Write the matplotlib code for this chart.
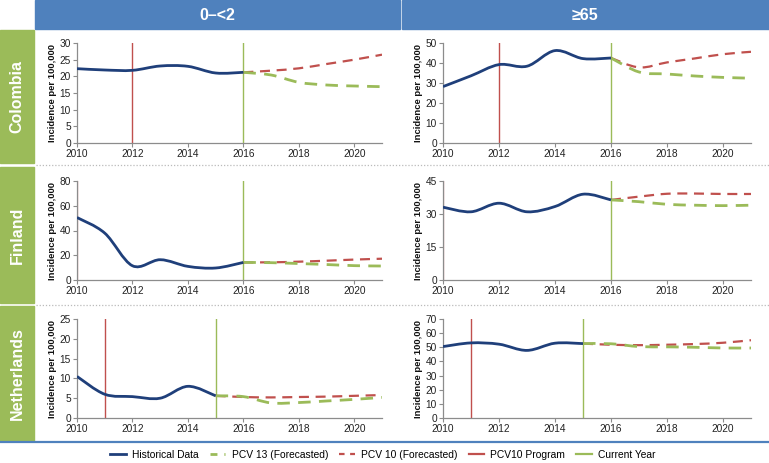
import matplotlib
matplotlib.use("Agg")
import matplotlib.pyplot as plt
from matplotlib.path import Path
from matplotlib.patches import PathPatch, Rectangle
from matplotlib.lines import Line2D

plt.rcParams['font.family'] = ['Liberation Sans', 'DejaVu Sans']

# ---------------- data ----------------
col_headers = ["0\u2013<2", "\u226565"]
row_labels = ["Colombia", "Finland", "Netherlands"]

col_hist_years = [2010, 2011, 2012, 2013, 2014, 2015, 2016]
col_fc_years = [2016, 2017, 2018, 2019, 2020, 2021]
col_02_hist = [22.3, 21.9, 21.8, 23.1, 23.0, 21.0, 21.2]
col_02_pcv13 = [21.2, 20.4, 18.2, 17.4, 17.1, 16.9]
col_02_pcv10 = [21.2, 21.7, 22.4, 23.7, 25.0, 26.5]
col_65_hist = [28.2, 33.6, 39.2, 38.4, 46.2, 42.2, 42.5]
col_65_pcv13 = [42.5, 35.5, 34.5, 33.5, 32.8, 32.4]
col_65_pcv10 = [42.5, 37.8, 40.3, 42.3, 44.4, 45.6]

fin_hist_years = [2010, 2011, 2012, 2013, 2014, 2015, 2016]
fin_fc_years = [2016, 2017, 2018, 2019, 2020, 2021]
fin_02_hist = [50.5, 37.9, 11.5, 16.4, 11.0, 9.7, 14.2]
fin_02_pcv13 = [14.2, 14.0, 13.3, 12.5, 11.6, 11.3]
fin_02_pcv10 = [14.2, 14.3, 14.8, 15.6, 16.5, 17.2]
fin_65_hist = [33.1, 31.0, 34.9, 31.0, 33.4, 39.0, 36.4]
fin_65_pcv13 = [36.4, 35.6, 34.4, 34.0, 33.8, 34.0]
fin_65_pcv10 = [36.4, 37.9, 39.2, 39.3, 39.1, 39.1]

net_hist_years = [2010, 2011, 2012, 2013, 2014, 2015]
net_fc_years = [2015, 2016, 2017, 2018, 2019, 2020, 2021]
net_02_hist = [10.5, 6.0, 5.4, 5.0, 8.0, 5.6]
net_02_pcv13 = [5.6, 5.4, 3.8, 3.9, 4.3, 4.7, 5.2]
net_02_pcv10 = [5.6, 5.3, 5.2, 5.3, 5.4, 5.6, 5.8]
net_65_hist = [50.5, 53.1, 52.2, 47.8, 52.9, 52.6]
net_65_pcv13 = [52.6, 52.5, 50.5, 50.3, 50.0, 49.5, 49.5]
net_65_pcv10 = [52.6, 51.8, 51.5, 51.8, 52.3, 53.2, 55.0]

program_years = [2012, 2010, 2011]
current_years = [2016, 2016, 2015]

y_max = [[30, 50], [80, 45], [25, 70]]
y_step = [[5, 10], [20, 15], [5, 10]]
x_ticks = [2010, 2012, 2014, 2016, 2018, 2020]

legend_labels = ["Historical Data", "PCV 13 (Forecasted)", "PCV 10 (Forecasted)",
                 "PCV10 Program", "Current Year"]

panels = {
    (0, 0): (col_hist_years, col_02_hist, col_fc_years, col_02_pcv13, col_02_pcv10),
    (0, 1): (col_hist_years, col_65_hist, col_fc_years, col_65_pcv13, col_65_pcv10),
    (1, 0): (fin_hist_years, fin_02_hist, fin_fc_years, fin_02_pcv13, fin_02_pcv10),
    (1, 1): (fin_hist_years, fin_65_hist, fin_fc_years, fin_65_pcv13, fin_65_pcv10),
    (2, 0): (net_hist_years, net_02_hist, net_fc_years, net_02_pcv13, net_02_pcv10),
    (2, 1): (net_hist_years, net_65_hist, net_fc_years, net_65_pcv13, net_65_pcv10),
}

# ---------------- style ----------------
NAVY = "#1F3F7A"
GREEN = "#9BBB59"
RED = "#C0504D"
HEADER_BLUE = "#4F81BD"
W, H = 769, 463


def smooth_path(xs, ys):
    """Excel-style smoothed line: cubic Bezier through the data points."""
    n = len(xs)
    verts = [(xs[0], ys[0])]
    codes = [Path.MOVETO]
    for i in range(n - 1):
        x0, y0 = (xs[i - 1], ys[i - 1]) if i > 0 else (xs[i], ys[i])
        x1, y1 = xs[i], ys[i]
        x2, y2 = xs[i + 1], ys[i + 1]
        x3, y3 = (xs[i + 2], ys[i + 2]) if i + 2 < n else (xs[i + 1], ys[i + 1])
        c1 = (x1 + (x2 - x0) / 6.0, y1 + (y2 - y0) / 6.0)
        c2 = (x2 - (x3 - x1) / 6.0, y2 - (y3 - y1) / 6.0)
        verts += [c1, c2, (x2, y2)]
        codes += [Path.CURVE4] * 3
    return Path(verts, codes)


def add_smooth(ax, xs, ys, **kw):
    p = PathPatch(smooth_path(xs, ys), fill=False, transform=ax.transData,
                  capstyle='butt', joinstyle='round', **kw)
    ax.add_patch(p)


fig = plt.figure(figsize=(W / 100, H / 100), dpi=100)


def fx(px):
    return px / W


def fy(py):
    return 1 - py / H


# header
for (x0, x1), text in zip([(35, 400), (402, 769)], col_headers):
    fig.patches.append(Rectangle((fx(x0), fy(29)), fx(x1 - x0), (29) / H,
                                 transform=fig.transFigure, color=HEADER_BLUE, zorder=0))
    fig.text(fx((x0 + x1) / 2), fy(15), text, color="white", fontsize=11.5,
             fontweight="bold", ha="center", va="center")

# row label boxes
row_boxes = [(30, 163), (167, 303), (306, 441)]
for (y0, y1), text in zip(row_boxes, row_labels):
    fig.patches.append(Rectangle((0, fy(y1)), fx(34), (y1 - y0) / H,
                                 transform=fig.transFigure, color=GREEN, zorder=0))
    fig.text(fx(17), fy((y0 + y1) / 2), text, color="white", fontsize=11.5,
             fontweight="bold", ha="center", va="center", rotation=90)

# dotted separators
for yy in [165, 304.5]:
    fig.add_artist(Line2D([fx(36), 1], [fy(yy), fy(yy)], transform=fig.transFigure,
                          color="#BBBBBB", lw=0.9, ls=(0, (1, 1.5))))
# bottom blue rule
fig.add_artist(Line2D([0, 1], [fy(442), fy(442)], transform=fig.transFigure,
                      color=HEADER_BLUE, lw=1.6))

# axes geometry (pixels)
col_x = [(77, 382), (443, 751)]
row_y = [(43, 143), (181, 280), (319, 418)]

for (r, c), (hx, hy, fxs, p13, p10) in panels.items():
    x0, x1 = col_x[c]
    y0, y1 = row_y[r]
    ax = fig.add_axes([fx(x0), fy(y1), fx(x1 - x0), (y1 - y0) / H])
    ymax = y_max[r][c]
    ax.set_xlim(2010, 2021)
    ax.set_ylim(0, ymax)
    ax.set_xticks(x_ticks)
    ax.set_yticks(list(range(0, ymax + 1, y_step[r][c])))
    for s in ["top", "right"]:
        ax.spines[s].set_visible(False)
    for s in ["left", "bottom"]:
        ax.spines[s].set_color("#8C8C8C")
        ax.spines[s].set_linewidth(0.9)
    ax.tick_params(axis="both", labelsize=7.3, colors="#8C8C8C", labelcolor="#222222",
                   length=3, width=0.8, pad=1.5)
    ax.set_ylabel("Incidence per 100,000", fontsize=6.8, fontweight="bold",
                  color="#111111", labelpad=2)
    ax.patch.set_alpha(0)

    lw_prog = 1.6 if program_years[r] == 2010 else 1.0
    ax.axvline(program_years[r], color=RED, lw=lw_prog, zorder=2)
    ax.axvline(current_years[r], color=GREEN, lw=1.0, zorder=2)

    add_smooth(ax, fxs, p10, edgecolor=RED, lw=1.6, ls=(0, (4.5, 3)), zorder=3)
    add_smooth(ax, fxs, p13, edgecolor=GREEN, lw=2.0, ls=(0, (4.5, 3)), zorder=4)
    add_smooth(ax, hx, hy, edgecolor=NAVY, lw=2.0, zorder=5)

# legend
handles = [
    Line2D([], [], color=NAVY, lw=2.0),
    Line2D([], [], color=GREEN, lw=2.0, ls=(0, (2.5, 2.5))),
    Line2D([], [], color=RED, lw=1.6, ls=(0, (2.5, 2.5))),
    Line2D([], [], color=RED, lw=1.6),
    Line2D([], [], color=GREEN, lw=1.6),
]
fig.legend(handles, legend_labels, loc="center", bbox_to_anchor=(fx(383), fy(455)),
           ncol=5, frameon=False, fontsize=7.4, handlelength=1.5, handletextpad=0.6,
           columnspacing=1.1)

fig.savefig("out.png", dpi=100)
